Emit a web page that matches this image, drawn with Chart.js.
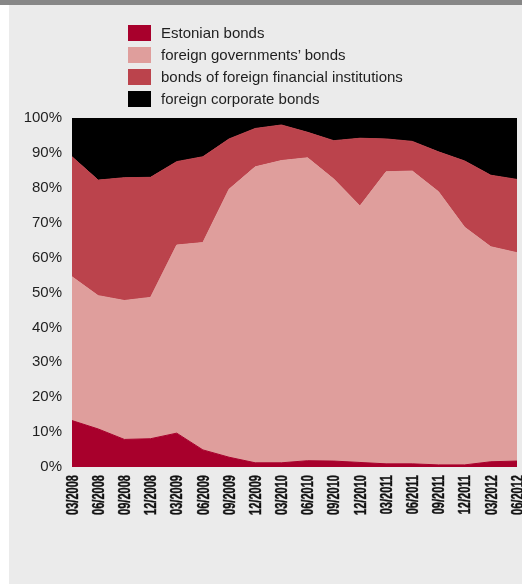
<!DOCTYPE html>
<html>
<head>
<meta charset="utf-8">
<script src="https://cdn.jsdelivr.net/npm/chart.js@4/dist/chart.umd.min.js"></script>
<style>
  html, body { margin: 0; padding: 0; background: #fff; }
  body { width: 522px; height: 585px; position: relative; overflow: hidden;
         font-family: "Liberation Sans", Arial, Helvetica, sans-serif; }
  .topbar { position: absolute; left: 0; top: 0; width: 522px; height: 5px; background: #878787; }
  .panel { position: absolute; left: 9px; top: 5px; width: 513px; height: 579px; background: #ebebeb; }
  .legend { position: absolute; left: 128px; top: 25px; color: #1f1f1f; font-size: 15px; }
  .legend div { position: relative; height: 22px; }
  .legend span.box { position: absolute; left: 0; top: 0; width: 23px; height: 16px; }
  .legend span.txt { position: absolute; left: 33px; top: -1px; white-space: nowrap; }
  #wrap { position: absolute; left: 0; top: 0; width: 513px; height: 579px; }
</style>
</head>
<body>
<div class="topbar"></div>
<div class="panel">
  <div id="wrap"><canvas id="bondsChart"></canvas></div>
</div>
<div class="legend" id="legend"></div>

<script>
// quarters
const quarters = ['03/2008', '06/2008', '09/2008', '12/2008', '03/2009', '06/2009', '09/2009', '12/2009',
  '03/2010', '06/2010', '09/2010', '12/2010', '03/2011', '06/2011', '09/2011', '12/2011', '03/2012', '06/2012'];

// shares of the portfolio, %
const estonianBonds = [13.3, 10.9, 7.9, 8.1, 9.7, 4.9, 2.8, 1.2, 1.2, 1.8, 1.7, 1.3, 0.9, 0.9, 0.6, 0.6, 1.5, 1.7];
const foreignGovBonds = [41.2, 38.2, 39.8, 40.5, 53.9, 59.4, 76.8, 84.8, 86.6, 86.8, 80.8, 73.5, 83.7, 83.9, 78.3, 68.1, 61.6, 59.7];
const foreignFinBonds = [34.4, 33.1, 35.2, 34.4, 23.9, 24.6, 14.4, 11.0, 10.2, 7.3, 11.0, 19.4, 9.4, 8.5, 11.4, 19.0, 20.5, 21.0];
const foreignCorpBonds = [11.1, 17.8, 17.1, 17.0, 12.5, 11.1, 6.0, 3.0, 2.0, 4.1, 6.5, 5.8, 6.0, 6.7, 9.7, 12.3, 16.4, 17.6];

const yTicks = [0, 10, 20, 30, 40, 50, 60, 70, 80, 90, 100];

const series = [
  { label: 'Estonian bonds', data: estonianBonds, color: '#a8002c' },
  { label: 'foreign governments\u2019 bonds', data: foreignGovBonds, color: '#df9e9c' },
  { label: 'bonds of foreign financial institutions', data: foreignFinBonds, color: '#bb434c' },
  { label: 'foreign corporate bonds', data: foreignCorpBonds, color: '#000000' }
];

// legend in html, one row per series
const legendEl = document.getElementById('legend');
series.forEach(s => {
  const row = document.createElement('div');
  row.innerHTML = `<span class="box" style="background:${s.color}"></span><span class="txt">${s.label}</span>`;
  legendEl.appendChild(row);
});

const fontFam = '"Liberation Sans", Arial, Helvetica, sans-serif';

// the quarter labels are set in a condensed bold face; no such font here,
// so they get drawn squeezed along the x scale's tick positions
const condensedTicks = {
  id: 'condensedTicks',
  afterDraw(chart) {
    const xs = chart.scales.x;
    const c = chart.ctx;
    const top = chart.chartArea.bottom + 8;
    c.save();
    c.fillStyle = '#111';
    c.strokeStyle = '#111';
    c.lineWidth = 0.4;
    c.font = 'bold 17px ' + fontFam;
    c.textAlign = 'right';
    c.textBaseline = 'middle';
    quarters.forEach((q, i) => {
      c.save();
      c.translate(xs.getPixelForValue(i) + 1, top);
      c.rotate(-Math.PI / 2);
      c.scale(0.65, 1);
      c.fillText(q, 0, 0);
      c.strokeText(q, 0, 0);
      c.restore();
    });
    c.restore();
  }
};

const ctx = document.getElementById('bondsChart').getContext('2d');

new Chart(ctx, {
  type: 'line',
  data: {
    labels: quarters,
    datasets: series.map((s, i) => ({
      label: s.label,
      data: s.data,
      backgroundColor: s.color,
      borderColor: s.color,
      borderWidth: 1,
      pointRadius: 0,
      tension: 0,
      fill: i === 0 ? 'origin' : '-1'
    }))
  },
  options: {
    responsive: true,
    maintainAspectRatio: false,
    animation: false,
    layout: { padding: { top: 113, right: 5, left: 0, bottom: 0 } },
    plugins: { legend: { display: false }, tooltip: { enabled: false } },
    scales: {
      x: {
        offset: false,
        grid: { display: false, drawTicks: false },
        border: { display: false },
        ticks: { display: false },
        afterFit: scale => {
          scale.height = 117;
          scale.paddingLeft = 0;
          scale.paddingRight = 0;
        }
      },
      y: {
        stacked: true,
        min: 0, max: 100,
        grid: { display: false, drawTicks: false },
        border: { display: false },
        afterBuildTicks: scale => { scale.ticks = yTicks.map(v => ({ value: v })); },
        ticks: {
          padding: 10, color: '#1f1f1f',
          font: { family: fontFam, size: 15 },
          callback: v => v + '%'
        },
        afterFit: scale => {
          scale.width = 63;
          scale.paddingTop = 0;
          scale.paddingBottom = 0;
        }
      }
    }
  },
  plugins: [condensedTicks]
});
</script>
</body>
</html>
